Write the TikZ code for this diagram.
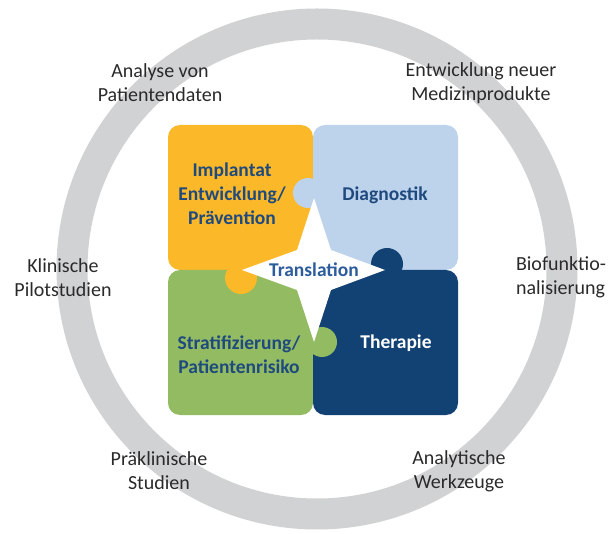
\documentclass[tikz,border=0pt]{standalone}
\usepackage{fontspec}
\setmainfont{Carlito}
\usetikzlibrary{matrix}
\definecolor{ringgray}{RGB}{209,210,211}
\definecolor{yellowp}{HTML}{FBB829}
\definecolor{lightb}{HTML}{BDD2EB}
\definecolor{greenp}{HTML}{93BB62}
\definecolor{darkb}{HTML}{124274}
\definecolor{txtblue}{HTML}{1F4A7E}
\definecolor{transblue}{HTML}{2D5C9C}
\definecolor{labgray}{HTML}{2A2A2A}

\begin{document}
\begin{tikzpicture}[x=1pt,y=-1pt]
\tikzset{
  puzzle/.style={
    matrix of nodes,
    nodes in empty cells,
    inner sep=0pt,
    column sep=0pt,
    row sep=0pt,
    nodes={
      minimum width=145pt,
      minimum height=145pt,
      inner sep=0pt,
      rounded corners=12pt,
      anchor=center
    }
  }
}

\tikzstyle{lab}=[align=center,text=labgray,font=\fontsize{20}{24}\selectfont]
\tikzstyle{ptext}=[align=center,text=txtblue,font=\bfseries\fontsize{19.5}{24}\selectfont]

 \useasboundingbox (0,0) rectangle (613,534);
 \draw[ringgray,line width=31pt] (317,269) circle[radius=245pt];

 \matrix (m) [puzzle] at (313,270)
 {
    |[fill=yellowp]| & |[fill=lightb]| \\
    |[fill=greenp]| & |[fill=darkb]| \\
 };

  % knobs
  \fill[lightb] (308,193) circle[radius=15pt];
  \fill[darkb] (387,264) circle[radius=16pt];
  \fill[yellowp] (241,278) circle[radius=16pt];
  \fill[greenp] (322,342) circle[radius=15pt];

  \coordinate (c) at (314,270);
  \fill[white,shift={(c)}] (0,-72) -- (17,-20) -- (71,0) -- (17,20)
    -- (0,72) -- (-17,20) -- (-72,0) -- (-17,-20) -- cycle;

  \node[ptext] (impl) at (232,194) {Implantat\\Entwicklung/\\Prävention};
  \node[ptext] (diag) at (385,195) {Diagnostik};
  \node[ptext] (strat) at (239,355) {Stratifizierung/\\Patientenrisiko};
  \node[ptext,text=white] (ther) at (396,343) {Therapie};
  \node[ptext,text=transblue] (trans) at (c) {Translation};

  \node[lab] (analyse) at (160,83) {Analyse von\\Patientendaten};
  \node[lab] (entw) at (481,83) {Entwicklung neuer\\Medizinprodukte};
  \node[lab] (klin) at (63,278) {Klinische\\Pilotstudien};
  \node[lab,align=left] (bio) at (561,277) {Biofunktio-\\nalisierung};
  \node[lab] (prae) at (159,471) {Präklinische\\Studien};
  \node[lab] (analyt) at (459,471) {Analytische\\Werkzeuge};
\end{tikzpicture}
\end{document}
